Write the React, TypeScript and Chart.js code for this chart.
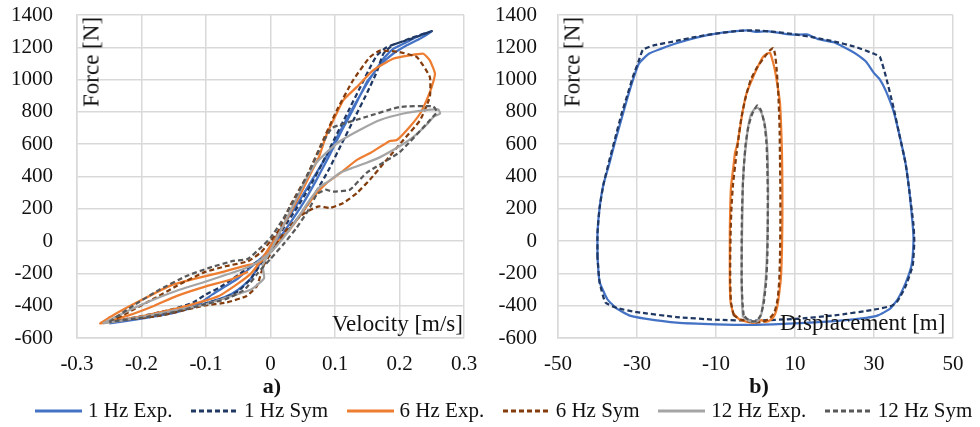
import React, { useEffect, useRef } from "react";
import { Chart, registerables } from "chart.js";

Chart.register(...registerables);

type Pt = [number, number];

const seriesNames = ["1 Hz Exp.", "1 Hz Sym", "6 Hz Exp.", "6 Hz Sym", "12 Hz Exp.", "12 Hz Sym"];
const seriesColors = ["#4472C4", "#1F3864", "#ED7D31", "#843C0C", "#A5A5A5", "#595959"];
const seriesDashed = [false, true, false, true, false, true];

const forceMin = -600;
const forceMax = 1400;
const forceStep = 200;
const velMin = -0.3;
const velMax = 0.3;
const velStep = 0.1;
const dispMin = -50;
const dispMax = 50;
const dispStep = 20;

// Panel a) : [velocity m/s, force N]
const vel1HzExp: Pt[] = [
  [-0.25, -510], [-0.2, -480], [-0.15, -445], [-0.12, -410], [-0.1, -385], [-0.07, -345], [-0.05, -300],
  [-0.03, -230], [-0.015, -130], [0, -30], [0.02, 100], [0.04, 220], [0.06, 350], [0.08, 480], [0.1, 620],
  [0.12, 770], [0.14, 910], [0.155, 1010], [0.17, 1090], [0.19, 1160], [0.21, 1210], [0.23, 1250], [0.25, 1300],
  [0.23, 1270], [0.21, 1230], [0.19, 1190], [0.175, 1130], [0.16, 1040], [0.15, 990], [0.13, 830], [0.11, 680],
  [0.09, 520], [0.07, 370], [0.05, 230], [0.03, 110], [0.01, 0], [-0.01, -90], [-0.03, -160], [-0.05, -230],
  [-0.07, -280], [-0.09, -330], [-0.11, -385], [-0.14, -430], [-0.18, -465], [-0.22, -490], [-0.25, -510],
];
const vel1HzSym: Pt[] = [
  [-0.25, -500], [-0.2, -470], [-0.15, -440], [-0.12, -410], [-0.1, -385], [-0.07, -350], [-0.05, -310],
  [-0.03, -230], [-0.015, -140], [0, -40], [0.02, 80], [0.04, 200], [0.06, 330], [0.08, 480], [0.1, 640],
  [0.12, 800], [0.14, 960], [0.155, 1080], [0.165, 1150], [0.18, 1200], [0.2, 1230], [0.22, 1260], [0.25, 1300],
  [0.22, 1255], [0.19, 1215], [0.175, 1160], [0.165, 1050], [0.15, 920], [0.13, 760], [0.11, 600], [0.09, 440],
  [0.07, 300], [0.05, 180], [0.03, 80], [0.01, -20], [-0.01, -100], [-0.03, -150], [-0.05, -210], [-0.08, -290],
  [-0.1, -330], [-0.12, -380], [-0.15, -420], [-0.2, -465], [-0.25, -500],
];
const vel6HzExp: Pt[] = [
  [-0.264, -510], [-0.22, -482], [-0.17, -440], [-0.12, -390], [-0.08, -340], [-0.05, -262], [-0.03, -200],
  [-0.015, -120], [0, -30], [0.015, 60], [0.03, 170], [0.045, 280], [0.06, 400], [0.075, 520], [0.087, 660],
  [0.1, 770], [0.113, 873], [0.134, 955], [0.159, 1057], [0.19, 1129], [0.216, 1150], [0.237, 1160],
  [0.247, 1119], [0.255, 1037], [0.25, 955], [0.242, 873], [0.232, 790], [0.216, 708], [0.196, 626],
  [0.185, 620], [0.154, 544], [0.134, 503], [0.108, 421], [0.087, 359], [0.072, 298], [0.056, 216],
  [0.03, 72], [0.004, -31], [-0.016, -133], [-0.037, -150], [-0.078, -195], [-0.12, -236], [-0.156, -277],
  [-0.197, -359], [-0.24, -450], [-0.264, -510], [-0.22, -460], [-0.18, -400], [-0.145, -339], [-0.1, -280],
  [-0.06, -236], [-0.035, -190],
];
const vel6HzSym: Pt[] = [
  [-0.249, -500], [-0.22, -440], [-0.182, -359], [-0.145, -277], [-0.104, -195], [-0.068, -154], [-0.035, -125],
  [-0.015, -70], [0, 0], [0.015, 80], [0.03, 216], [0.056, 400], [0.077, 585], [0.103, 811], [0.128, 996],
  [0.154, 1139], [0.17, 1180], [0.2, 1170], [0.227, 1139], [0.247, 1016], [0.247, 893], [0.232, 749],
  [0.206, 626], [0.18, 503], [0.154, 380], [0.134, 298], [0.113, 236], [0.092, 205], [0.075, 215], [0.06, 190],
  [0.046, 154], [0.025, 72], [0.004, -51], [-0.011, -154], [-0.021, -277], [-0.037, -340], [-0.068, -380],
  [-0.104, -400], [-0.171, -462], [-0.238, -493], [-0.249, -500],
];
const vel12HzExp: Pt[] = [
  [-0.26, -510], [-0.2, -470], [-0.15, -430], [-0.1, -390], [-0.06, -340], [-0.03, -300], [-0.01, -230],
  [-0.012, -150], [0, -60], [0.02, 100], [0.04, 260], [0.055, 380], [0.07, 480], [0.09, 560], [0.108, 620],
  [0.139, 690], [0.17, 750], [0.206, 790], [0.237, 810], [0.26, 815], [0.263, 790], [0.253, 770], [0.242, 720],
  [0.22, 640], [0.2, 587], [0.17, 520], [0.149, 485], [0.125, 450], [0.108, 423], [0.09, 370], [0.077, 338],
  [0.06, 250], [0.04, 130], [0.02, 20], [0, -70], [-0.02, -130], [-0.04, -170], [-0.07, -210], [-0.1, -250],
  [-0.14, -300], [-0.18, -360], [-0.22, -430], [-0.26, -510],
];
const vel12HzSym: Pt[] = [
  [-0.25, -500], [-0.213, -400], [-0.171, -298], [-0.13, -216], [-0.094, -164], [-0.058, -123], [-0.035, -110],
  [-0.015, -40], [0, 20], [0.02, 140], [0.04, 280], [0.06, 430], [0.08, 600], [0.095, 700], [0.108, 720],
  [0.149, 770], [0.2, 830], [0.252, 835], [0.258, 800], [0.252, 770], [0.2, 550], [0.149, 423], [0.123, 318],
  [0.097, 306], [0.085, 318], [0.072, 290], [0.06, 200], [0.04, 80], [0.02, -20], [0, -110], [-0.02, -200],
  [-0.04, -300], [-0.07, -360], [-0.1, -390], [-0.15, -440], [-0.2, -475], [-0.25, -500],
];

// Panel b) : [displacement, force N]
const disp1HzExp: Pt[] = [
  [-40, -100], [-40, 50], [-39.5, 200], [-38.5, 350], [-37, 480], [-35.5, 620], [-34, 750], [-32.5, 880],
  [-31, 1000], [-29.5, 1100], [-27, 1160], [-24, 1190], [-20, 1225], [-15, 1260], [-10, 1285], [-5, 1300],
  [-2, 1305], [0, 1295], [3, 1300], [7, 1285], [10, 1278], [13, 1280], [16, 1250], [20, 1230], [24, 1180],
  [26, 1150], [28, 1110], [30, 1040], [31.5, 1000], [33, 930], [35, 800], [36.5, 650], [38, 480], [39, 300],
  [39.8, 100], [40, 0], [39.5, -150], [38, -260], [36, -360], [34, -420], [31, -460], [28, -475], [20, -495],
  [10, -510], [0, -518], [-10, -515], [-20, -505], [-28, -480], [-32, -460], [-35, -420], [-37.5, -360],
  [-39.5, -250], [-40, -100],
];
const disp1HzSym: Pt[] = [
  [-40, -100], [-40, 50], [-39.5, 200], [-38.5, 350], [-37, 500], [-35.5, 640], [-34, 780], [-32.5, 900],
  [-31, 1020], [-29.5, 1120], [-28.5, 1185], [-26, 1210], [-20, 1240], [-15, 1265], [-10, 1285], [-5, 1300],
  [0, 1305], [5, 1295], [10, 1280], [15, 1260], [20, 1235], [25, 1205], [30, 1160], [31.5, 1140], [33, 1020],
  [35, 820], [36.5, 650], [38, 480], [39, 300], [40, 100], [40.2, 0], [39.8, -150], [38, -280], [36, -370],
  [34.5, -400], [30, -425], [20, -460], [10, -482], [0, -492], [-10, -487], [-20, -470], [-30, -440],
  [-35, -415], [-38, -380], [-39.5, -250], [-40, -100],
];
const disp6HzExp: Pt[] = [
  [-5.7, -445], [-6.3, -380], [-6.5, -250], [-6.5, -100], [-6.5, 50], [-6.4, 200], [-6.2, 335], [-5.6, 460],
  [-5.2, 545], [-4.6, 600], [-4.3, 640], [-3.8, 720], [-3.2, 812], [-2.2, 920], [-0.6, 1016], [0.8, 1090],
  [1.9, 1140], [3.0, 1162], [3.7, 1165], [4.3, 1120], [4.9, 1060], [5.6, 960], [6.2, 855], [6.5, 700],
  [6.7, 545], [6.8, 350], [6.8, 131], [6.7, -50], [6.5, -200], [6.2, -284], [5.5, -407], [4.8, -460],
  [3.7, -490], [2.5, -500], [1.5, -490], [-0.6, -507], [-2, -500], [-3.9, -488], [-5.7, -445],
];
const disp6HzSym: Pt[] = [
  [-5.5, -460], [-6.2, -380], [-6.4, -250], [-6.4, -100], [-6.3, 50], [-6.1, 200], [-5.7, 350], [-5, 500],
  [-4.3, 640], [-3.6, 760], [-2.6, 880], [-1.2, 1000], [0.5, 1080], [2.3, 1140], [3.6, 1180], [4.5, 1195],
  [5.0, 1150], [5.4, 1050], [5.8, 900], [6.1, 700], [6.2, 500], [6.3, 300], [6.3, 100], [6.2, -100],
  [6.0, -250], [5.6, -360], [4.8, -440], [3.5, -480], [1.8, -500], [0, -505], [-2, -495], [-3.8, -485],
  [-5.5, -460],
];
const disp12HzExp: Pt[] = [
  [-3.2, -470], [-3.4, -380], [-3.5, -250], [-3.5, -100], [-3.4, 50], [-3.3, 200], [-3.2, 350], [-2.9, 480],
  [-2.4, 600], [-1.9, 700], [-1.2, 780], [-0.2, 820], [0.6, 825], [1.4, 800], [2.2, 740], [2.8, 640],
  [3.1, 500], [3.2, 300], [3.1, 100], [2.9, -80], [2.6, -230], [2.1, -350], [1.5, -450], [0.6, -495],
  [-0.6, -500], [-2.0, -490], [-3.2, -470],
];
const disp12HzSym: Pt[] = [
  [-3.0, -460], [-3.3, -380], [-3.5, -250], [-3.5, -100], [-3.5, 50], [-3.4, 200], [-3.2, 350], [-2.9, 480],
  [-2.5, 600], [-1.8, 710], [-0.8, 790], [0.4, 840], [1.4, 810], [2.3, 720], [2.8, 600], [3.0, 450],
  [3.1, 300], [3.1, 100], [3.0, -100], [2.7, -250], [2.1, -380], [1.3, -460], [0.2, -495], [-1, -495],
  [-2.2, -480], [-3.0, -460],
];

const velocitySeries = [vel1HzExp, vel1HzSym, vel6HzExp, vel6HzSym, vel12HzExp, vel12HzSym];
const displacementSeries = [disp1HzExp, disp1HzSym, disp6HzExp, disp6HzSym, disp12HzExp, disp12HzSym];

const FONT = "'Liberation Serif', 'Times New Roman', serif";
const TEXT = "#111111";
const GRID = "#d9d9d9";

function buildConfig(
  series: Pt[][],
  xMin: number,
  xMax: number,
  xStep: number,
  yAxisWidth: number,
  yTickGap: number,
  padRight: number,
  fmt: (v: number) => string
): any {
  return {
    type: "scatter",
    data: {
      datasets: series.map((pts, i) => ({
        label: seriesNames[i],
        data: pts.map(([x, y]) => ({ x, y })),
        showLine: true,
        fill: false,
        borderColor: seriesColors[i],
        backgroundColor: seriesColors[i],
        borderWidth: 2.25,
        borderDash: seriesDashed[i] ? [5, 3] : [],
        pointRadius: 0,
        pointHoverRadius: 0,
        tension: 0.15,
        order: 6 - i,
      })),
    },
    options: {
      animation: false,
      responsive: false,
      maintainAspectRatio: false,
      events: [],
      layout: { padding: { top: 15, right: padRight, left: 0, bottom: 0 } },
      plugins: { legend: { display: false }, tooltip: { enabled: false }, title: { display: false } },
      scales: {
        x: {
          type: "linear",
          min: xMin,
          max: xMax,
          ticks: {
            stepSize: xStep,
            padding: 0,
            color: TEXT,
            font: { family: FONT, size: 21 },
            maxRotation: 0,
            callback: (v: number) => fmt(v),
          },
          grid: { color: GRID, lineWidth: 1.5, drawTicks: true, tickLength: 14, tickColor: "rgba(0,0,0,0)" },
          border: { color: GRID, width: 1.5 },
          afterFit: (s: any) => {
            s.height = 42;
          },
        },
        y: {
          type: "linear",
          min: forceMin,
          max: forceMax,
          ticks: {
            stepSize: forceStep,
            padding: 0,
            color: TEXT,
            font: { family: FONT, size: 21 },
            callback: (v: number) => String(Math.round(v)),
          },
          grid: { color: GRID, lineWidth: 1.5, drawTicks: true, tickLength: yTickGap, tickColor: "rgba(0,0,0,0)" },
          border: { color: GRID, width: 1.5 },
          afterFit: (s: any) => {
            s.width = yAxisWidth;
          },
        },
      },
    },
  };
}

function Panel(props: { config: any; left: number }) {
  const ref = useRef<HTMLCanvasElement | null>(null);
  useEffect(() => {
    if (!ref.current) return;
    const chart = new Chart(ref.current, props.config);
    return () => chart.destroy();
  }, []);
  return (
    <canvas
      ref={ref}
      width={490}
      height={380}
      style={{ position: "absolute", left: props.left, top: 0, width: 490, height: 380 }}
    />
  );
}

const textStyle: React.CSSProperties = {
  position: "absolute",
  fontFamily: FONT,
  fontSize: 23,
  color: TEXT,
  lineHeight: "23px",
  whiteSpace: "nowrap",
};

function LegendSwatch(props: { color: string; dashed: boolean }) {
  return (
    <svg width={47} height={6} style={{ display: "block", marginRight: 6 }}>
      <line
        x1={0}
        y1={3}
        x2={47}
        y2={3}
        stroke={props.color}
        strokeWidth={3}
        strokeDasharray={props.dashed ? "5 3" : undefined}
      />
    </svg>
  );
}

export default function App() {
  const velFmt = (v: number) => String(Math.round(v * 10) / 10);
  const dispFmt = (v: number) => String(Math.round(v));
  const cfgA = buildConfig(velocitySeries, velMin, velMax, velStep, 77, 24, 26, velFmt);
  const cfgB = buildConfig(displacementSeries, dispMin, dispMax, dispStep, 68, 21, 27, dispFmt);
  return (
    <div
      style={{
        position: "fixed",
        left: 0,
        top: 0,
        width: 980,
        height: 427,
        background: "#ffffff",
        overflow: "hidden",
      }}
    >
      <Panel config={cfgA} left={0} />
      <Panel config={cfgB} left={490} />

      <div style={{ ...textStyle, left: 91, top: 62, transform: "translate(-50%, -50%) rotate(-90deg)" }}>
        Force [N]
      </div>
      <div style={{ ...textStyle, left: 572, top: 62, transform: "translate(-50%, -50%) rotate(-90deg)" }}>
        Force [N]
      </div>
      <div style={{ ...textStyle, left: 332, top: 312 }}>Velocity [m/s]</div>
      <div style={{ ...textStyle, left: 780, top: 311 }}>Displacement [m]</div>

      <div style={{ ...textStyle, fontSize: 22, left: 272, top: 374, fontWeight: "bold", transform: "translateX(-50%)" }}>
        a)
      </div>
      <div style={{ ...textStyle, fontSize: 22, left: 759, top: 374, fontWeight: "bold", transform: "translateX(-50%)" }}>
        b)
      </div>

      <div
        style={{
          position: "absolute",
          left: 35,
          top: 400,
          display: "flex",
          alignItems: "center",
          fontFamily: FONT,
          fontSize: 21,
          color: TEXT,
          whiteSpace: "nowrap",
          lineHeight: "21px",
        }}
      >
        {seriesNames.map((name, i) => (
          <div key={name} style={{ display: "flex", alignItems: "center", marginRight: i < 5 ? 18.5 : 0 }}>
            <LegendSwatch color={seriesColors[i]} dashed={seriesDashed[i]} />
            <span>{name}</span>
          </div>
        ))}
      </div>
    </div>
  );
}
